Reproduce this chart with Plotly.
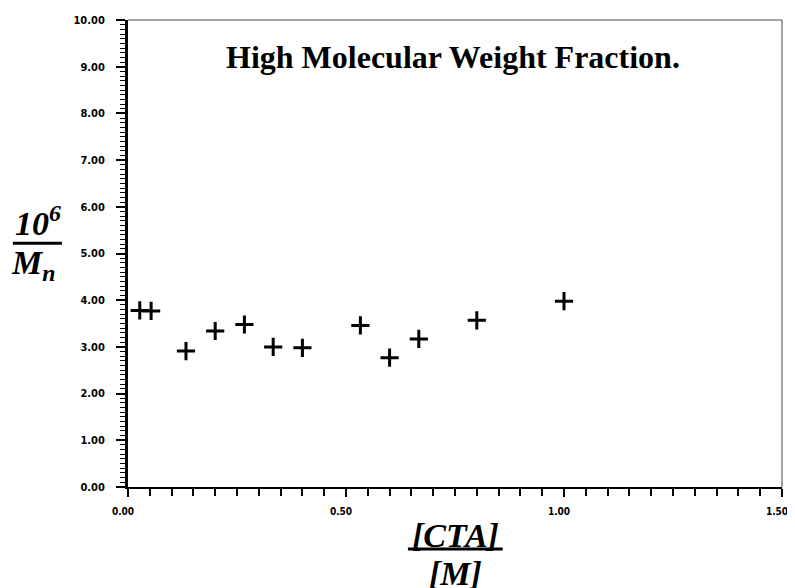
import plotly.graph_objects as go

# [CTA]/[M] ratio and 10^6/Mn values
cta_ratio = [0.027, 0.053, 0.133, 0.200, 0.267, 0.333, 0.400, 0.533, 0.600, 0.667, 0.800, 1.000]
inv_mn = [3.78, 3.77, 2.91, 3.34, 3.48, 3.00, 2.98, 3.46, 2.77, 3.17, 3.57, 3.98]

x_ticks = [0.0, 0.5, 1.0, 1.5]
y_ticks = [0, 1, 2, 3, 4, 5, 6, 7, 8, 9, 10]

tick_font = dict(family="DejaVu Sans Condensed", size=11, color="black", weight="bold")
xtick_font = dict(family="DejaVu Sans Condensed", size=10, color="black", weight="bold")
label_font = dict(family="Liberation Serif", size=34, color="black")

fig = go.Figure()
fig.add_trace(go.Scatter(
    x=cta_ratio, y=inv_mn, mode="markers",
    marker=dict(symbol="cross-thin", size=13, line=dict(width=3, color="black")),
    showlegend=False,
))

# page body has an 8px margin, so the figure is a bit smaller than the window
fig.update_layout(
    width=787, height=580,
    margin=dict(l=120, r=13, t=12, b=101),
    plot_bgcolor="white", paper_bgcolor="white",
    xaxis=dict(
        range=[0, 1.5], tickvals=x_ticks, ticktext=["%.2f" % v for v in x_ticks],
        showgrid=False, zeroline=False, showline=True, linecolor="black", linewidth=2,
        ticks="outside", ticklen=8, tickwidth=2, tickcolor="black", tickfont=xtick_font,
        ticklabelstandoff=6, ticklabelshift=-5, ticklabeloverflow="allow", automargin=False,
        minor=dict(dtick=0.05, ticks="outside", ticklen=7, tickwidth=2, tickcolor="black"),
    ),
    yaxis=dict(
        range=[0, 10], tickvals=y_ticks, ticktext=["%.2f" % v for v in y_ticks],
        showgrid=False, zeroline=False, showline=True, linecolor="black", linewidth=3,
        ticks="outside", ticklen=9, tickwidth=2, tickcolor="black", tickfont=tick_font,
        ticklabelstandoff=9, ticklabeloverflow="allow", automargin=False,
        minor=dict(dtick=0.1, ticks="outside", ticklen=5, tickwidth=1, tickcolor="black"),
    ),
)

# faint frame on top and right
fig.add_shape(type="line", xref="paper", yref="paper", x0=0, x1=1, y0=1, y1=1,
              line=dict(color="#444", width=1))
fig.add_shape(type="line", xref="paper", yref="paper", x0=1, x1=1, y0=0, y1=1,
              line=dict(color="#444", width=1))

# title inside the plot
fig.add_annotation(
    text="<b>High Molecular Weight Fraction.</b>", xref="paper", yref="paper",
    x=0.497, y=0.921, xanchor="center", yanchor="middle", showarrow=False,
    font=dict(family="Liberation Serif", size=32, color="black"),
)

# y axis label as a fraction
fig.add_annotation(
    text="<b><i>10<sup>6</sup></i></b>", xref="paper", yref="paper",
    x=-0.138, y=0.52, xanchor="center", yanchor="bottom", showarrow=False, font=label_font,
)
fig.add_annotation(
    text="<b><i>M<sub>n</sub></i></b>", xref="paper", yref="paper",
    x=-0.145, y=0.525, xanchor="center", yanchor="top", showarrow=False, font=label_font,
)
fig.add_shape(type="line", xref="paper", yref="paper", x0=-0.176, x1=-0.101, y0=0.522, y1=0.522,
              line=dict(color="black", width=3))

# x axis label as a fraction
fig.add_annotation(
    text="<b><i>[CTA]</i></b>", xref="paper", yref="paper",
    x=0.50, y=-0.061, xanchor="center", yanchor="top", showarrow=False, font=label_font,
)
fig.add_annotation(
    text="<b><i>[M]</i></b>", xref="paper", yref="paper",
    x=0.50, y=-0.142, xanchor="center", yanchor="top", showarrow=False, font=label_font,
)
fig.add_shape(type="line", xref="paper", yref="paper", x0=0.428, x1=0.573, y0=-0.133, y1=-0.133,
              line=dict(color="black", width=3))

fig.write_html("out.html")
